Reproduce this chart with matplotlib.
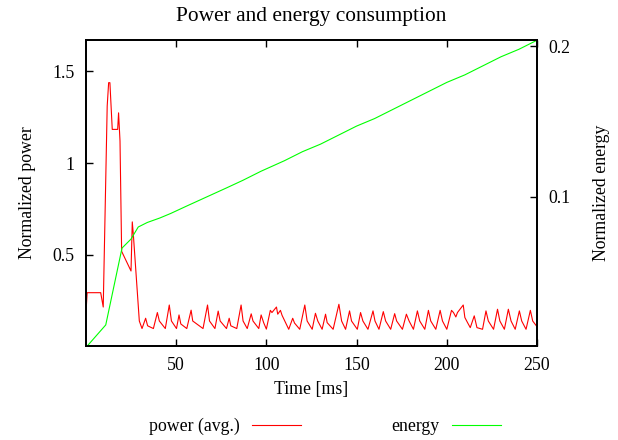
import matplotlib
matplotlib.use('Agg')
import matplotlib.pyplot as plt

plt.rcParams['font.family'] = ['Liberation Serif', 'DejaVu Serif']
plt.rcParams['font.size'] = 12.8

# power (avg.), left axis
time_power = [0, 0.7, 8.2, 9.6, 11.8, 12.6, 13.3, 14.6, 17.6, 18.1, 18.9, 19.8, 25.0, 25.7, 26.3,
              29.6, 31.1, 33.1, 34.2, 37.4, 39.6, 40.7, 44.0, 46.2, 47.4, 50.2, 51.6, 52.6, 55.9,
              58.3, 59.2, 64.9, 67.4, 68.5, 71.5, 73.3, 74.4, 77.9, 79.4, 80.3, 83.6, 86.0, 87.1,
              89.4, 91.6, 92.6, 95.8, 97.1, 98.5, 100.0, 102.2, 103.1, 105.6, 106.3, 107.8, 108.7,
              112.4, 114.6, 115.6, 118.5, 121.3, 122.6, 125.4, 127.2, 128.5, 130.9, 132.8, 133.7,
              137.0, 140.2, 141.7, 143.9, 146.1, 147.2, 150.4, 152.2, 153.5, 156.3, 159.1, 160.2,
              162.4, 164.8, 166.1, 168.9, 171.1, 172.2, 175.4, 177.6, 179.1, 181.5, 183.7, 185.0,
              187.8, 189.8, 191.1, 193.9, 196.3, 197.6, 200.0, 202.6, 203.7, 205.0, 205.9, 209.1,
              210.0, 211.5, 213.0, 215.2, 216.7, 219.8, 221.7, 223.0, 225.9, 228.1, 229.4, 231.9,
              234.1, 235.6, 237.9, 240.2, 241.5, 243.9, 246.3, 247.6, 250.0]
power = [0.18, 0.295, 0.295, 0.217, 1.31, 1.437, 1.437, 1.183, 1.183, 1.273, 1.12, 0.52, 0.413, 0.68, 0.61,
         0.141, 0.10, 0.156, 0.115, 0.10, 0.187, 0.141, 0.10, 0.228, 0.141, 0.10, 0.174, 0.125, 0.10,
         0.20, 0.141, 0.10, 0.228, 0.141, 0.10, 0.195, 0.141, 0.10, 0.156, 0.115, 0.10, 0.228, 0.141,
         0.10, 0.18, 0.141, 0.10, 0.174, 0.132, 0.097, 0.199, 0.187, 0.217, 0.178, 0.199, 0.172,
         0.096, 0.156, 0.13, 0.096, 0.228, 0.141, 0.096, 0.183, 0.141, 0.096, 0.178, 0.132,
         0.096, 0.232, 0.141, 0.096, 0.196, 0.141, 0.096, 0.187, 0.141, 0.096, 0.196, 0.141,
         0.096, 0.192, 0.141, 0.096, 0.181, 0.141, 0.096, 0.178, 0.141, 0.096, 0.196, 0.141,
         0.096, 0.199, 0.141, 0.096, 0.199, 0.141, 0.096, 0.199, 0.187, 0.163, 0.187, 0.228,
         0.16, 0.132, 0.105, 0.169, 0.105, 0.096, 0.196, 0.141, 0.096, 0.205, 0.141, 0.096,
         0.205, 0.141, 0.096, 0.196, 0.141, 0.096, 0.199, 0.141, 0.11]

# energy, right axis
time_energy = [0, 11, 20, 25, 29, 34, 41, 47, 56, 67, 78, 87, 97, 110, 120, 130, 140, 150,
               160, 170, 180, 190, 200, 210, 220, 230, 240, 250]
energy = [0.0, 0.015, 0.066, 0.072, 0.080, 0.083, 0.086, 0.089, 0.094, 0.100, 0.106, 0.111, 0.117,
          0.124, 0.130, 0.135, 0.141, 0.147, 0.152, 0.158, 0.164, 0.170, 0.176, 0.181, 0.187,
          0.193, 0.198, 0.204]

x_ticks = [50, 100, 150, 200, 250]
y_ticks = [0.5, 1, 1.5]
y2_ticks = [0.1, 0.2]

fig = plt.figure(figsize=(6.18, 4.40), dpi=100)
ax = fig.add_axes([0.139, 0.2136, 0.730, 0.695])
ax2 = ax.twinx()

l1, = ax.plot(time_power, power, color='#ff0000', lw=0.8, label='power (avg.)')
l2, = ax2.plot(time_energy, energy, color='#00ff00', lw=0.8, label='energy')

ax.set_xlim(0, 250)
ax.set_ylim(0.005, 1.668)
ax2.set_ylim(0.001, 0.204)

ax.set_xticks(x_ticks)
ax.set_xticklabels([str(t) for t in x_ticks])
ax.set_yticks(y_ticks)
ax.set_yticklabels(['0.5', '1', '1.5'])
ax2.set_yticks(y2_ticks)
ax2.set_yticklabels(['0.1', '0.2'])

ax.tick_params(axis='x', direction='in', top=True, length=5, width=1, pad=8)
ax.tick_params(axis='y', direction='in', right=False, length=5, width=1, pad=8)
ax2.tick_params(axis='y', direction='in', length=5, width=1, pad=8)

for a in (ax, ax2):
    for s in a.spines.values():
        s.set_linewidth(1.3)

ax.set_xlabel('Time [ms]', labelpad=5)
ax.set_ylabel('Normalized power', labelpad=12)
ax2.set_ylabel('Normalized energy', labelpad=16)
ax.set_title('Power and energy consumption', pad=14)

fig.legend(handles=[l1, l2], loc='center', bbox_to_anchor=(0.526, 0.03), ncol=2,
           frameon=False, markerfirst=False, handlelength=2.75, handletextpad=0.7,
           columnspacing=5.1)

fig.savefig('out.png', dpi=100)
